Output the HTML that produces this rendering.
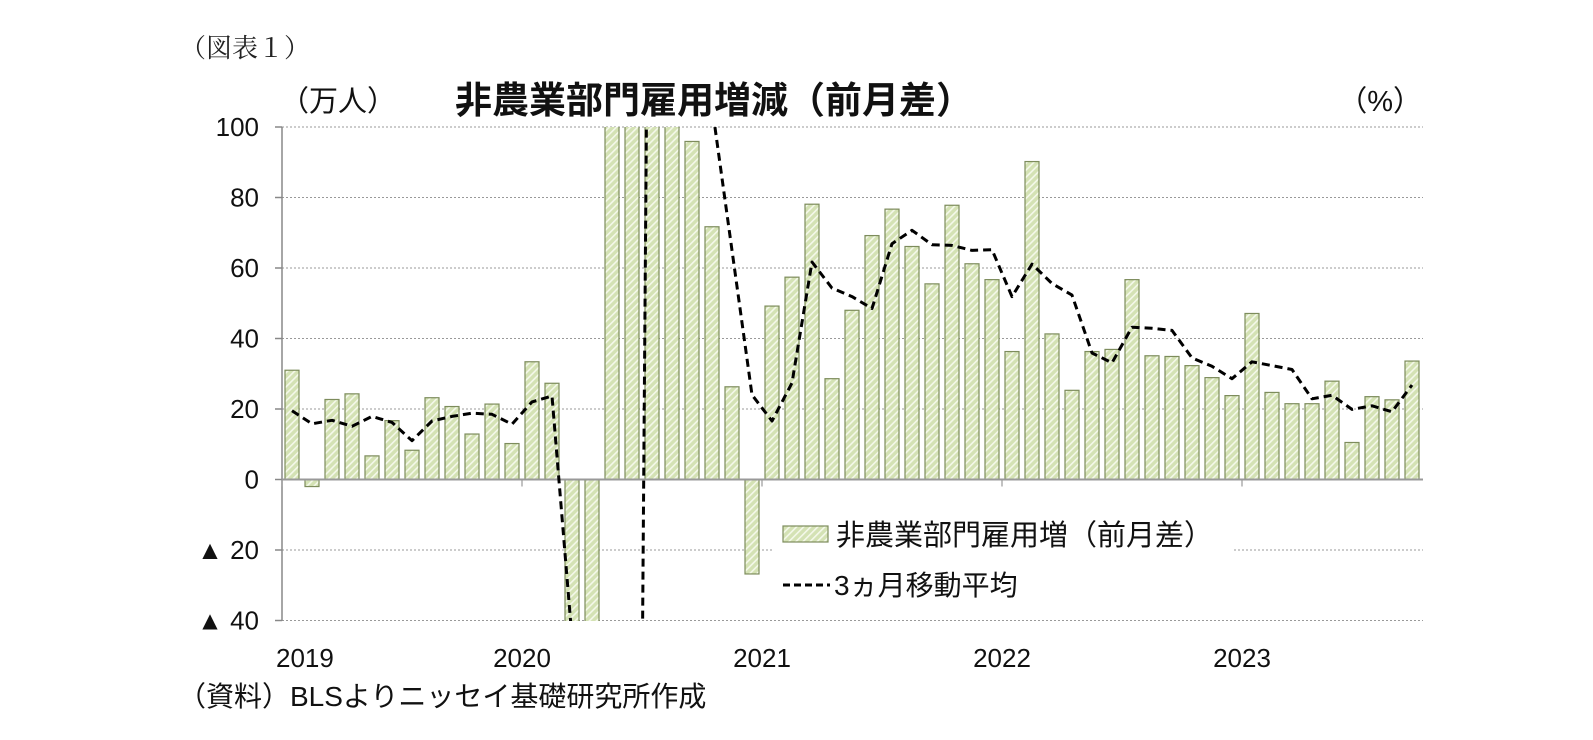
<!DOCTYPE html>
<html><head><meta charset="utf-8">
<style>
html,body{margin:0;padding:0;background:#fff;width:1593px;height:740px;overflow:hidden;}
svg{display:block;}
text{font-family:"Liberation Sans","Noto Sans CJK JP",sans-serif;}
</style></head>
<body>
<svg id="chart" width="1593" height="740" viewBox="0 0 1593 740" xmlns="http://www.w3.org/2000/svg">
<defs>
<pattern id="hatch" patternUnits="userSpaceOnUse" width="5" height="5" patternTransform="rotate(45)">
<rect width="5" height="5" fill="#d4e2b4"/>
<rect width="1.6" height="5" fill="#f4f8ea"/>
</pattern>
<clipPath id="plotclip"><rect x="282" y="127" width="1141" height="494"/></clipPath>
</defs>
<text x="180" y="57" font-size="26" fill="#222" style="font-family:'Liberation Serif','Noto Serif CJK SC',serif">（図表１）</text>
<text x="280" y="111" font-size="29" fill="#111">（万人）</text>
<text x="455" y="113" font-size="37" font-weight="bold" fill="#111">非農業部門雇用増減（前月差）</text>
<text x="1422" y="111" font-size="29" text-anchor="end" fill="#111">（%）</text>
<g id="grid"></g>
<g id="yticks"></g>
<g id="bars" clip-path="url(#plotclip)"></g>
<g id="axes"></g>
<g id="line" clip-path="url(#plotclip)"></g>
<g>
<rect x="772" y="508" width="462" height="100" fill="#fff"/>
<rect x="783" y="526" width="45" height="16" fill="url(#hatch)" stroke="#7d8c5c" stroke-width="1.2"/>
<text x="836" y="545" font-size="29" fill="#111">非農業部門雇用増（前月差）</text>
<line x1="783" y1="585" x2="830" y2="585" stroke="#000" stroke-width="3" stroke-dasharray="7,4"/>
<text x="834" y="595" font-size="28" fill="#111">3ヵ月移動平均</text>
</g>
<text x="178" y="706" font-size="28" fill="#111">（資料）BLSよりニッセイ基礎研究所作成</text>
</svg>
<script>
const months = 57;
const barValues = [31,-2,22.7,24.3,6.7,16.7,8.3,23.2,20.7,12.9,21.4,10.2,
33.4,27.3,-137,-2070,280,480,170,150,95.9,71.7,26.3,-26.8,
49.2,57.4,78.1,28.6,48.0,69.2,76.7,66.1,55.5,77.8,61.2,56.7,
36.3,90.2,41.3,25.3,36.3,36.9,56.7,35.1,34.9,32.3,28.9,23.8,
47.1,24.7,21.5,21.5,27.9,10.5,23.5,22.6,33.6];
const maValues = [19.5,15.8,16.8,15.1,17.9,16.2,11.0,16.6,17.9,18.8,18.5,15.7,
22.0,23.7,-45,-727,-642,-437,310,267,139,106,65,24,
16.6,27.4,61.7,54.3,51.9,48.5,66.9,70.7,66.6,66.4,65.0,65.2,
51.9,61.1,55.6,52.3,35.9,33.1,43.2,42.9,42.3,34.5,32.1,28.6,
33.4,32.3,31.2,22.9,23.9,19.9,20.9,19.2,26.8];
const yTicks = [100,80,60,40,20,0,-20,-40];
const yTickLabels = ["100","80","60","40","20","0","▲ 20","▲ 40"];
const yearLabels = ["2019","2020","2021","2022","2023"];

const NS="http://www.w3.org/2000/svg";
const X0=282, SLOT=20, YTOP=127, Y0=479.5, PX=3.525, XR=1423;
function yScale(v){return Y0 - v*PX;}
function xScale(i){return X0 + SLOT*(i+0.5);}
function mk(tag,attrs,parent){const e=document.createElementNS(NS,tag);for(const k in attrs)e.setAttribute(k,attrs[k]);parent.appendChild(e);return e;}

const grid=document.getElementById('grid');
const yt=document.getElementById('yticks');
yTicks.forEach((v,k)=>{
  const y=yScale(v);
  if(v!==0){
    const g=mk('line',{x1:X0,x2:XR,y1:y,y2:y,stroke:'#999','stroke-width':1,'stroke-dasharray':'2,2'},grid);
    
    
  }
  const t=mk('line',{x1:X0-7,x2:X0,y1:y,y2:y,stroke:'#888','stroke-width':1.5},yt);
  
  
  const lab=mk('text',{x:259,y:y+9,'font-size':26,'text-anchor':'end',fill:'#111'},yt);
  lab.textContent=yTickLabels[k];
  
  
});
const ax=mk('line',{x1:X0,x2:X0,y1:YTOP,y2:yScale(-40),stroke:'#888','stroke-width':1.5},yt);



const bars=document.getElementById('bars');
barValues.forEach((v,i)=>{
  const y1=yScale(Math.max(v,0)), y2=yScale(Math.min(v,0));
  const r=mk('rect',{x:xScale(i)-7,y:y1,width:14,height:Math.max(y2-y1,0.5),fill:'url(#hatch)',stroke:'#7d8c5c','stroke-width':1.2},bars);
  
  
});

const axes=document.getElementById('axes');
const zl=mk('line',{x1:X0,x2:XR,y1:Y0,y2:Y0,stroke:'#999','stroke-width':2},axes);


yearLabels.forEach((lab,k)=>{
  const x=X0+k*12*SLOT;
  const t=mk('line',{x1:x,x2:x,y1:Y0,y2:Y0+7,stroke:'#999','stroke-width':1.2},axes);
  
  
  const tx=mk('text',{x:k===0?276:x,y:667,'font-size':26,'text-anchor':k===0?'start':'middle',fill:'#111'},axes);
  tx.textContent=lab;
  
  
});

const line=document.getElementById('line');
let d='';
maValues.forEach((v,i)=>{d+=(i?' L':'M')+xScale(i).toFixed(1)+','+yScale(v).toFixed(1);});
const p=mk('path',{d:d,fill:'none',stroke:'#000','stroke-width':3,'stroke-dasharray':'8,5','stroke-linejoin':'round'},line);


</script>
</body></html>
